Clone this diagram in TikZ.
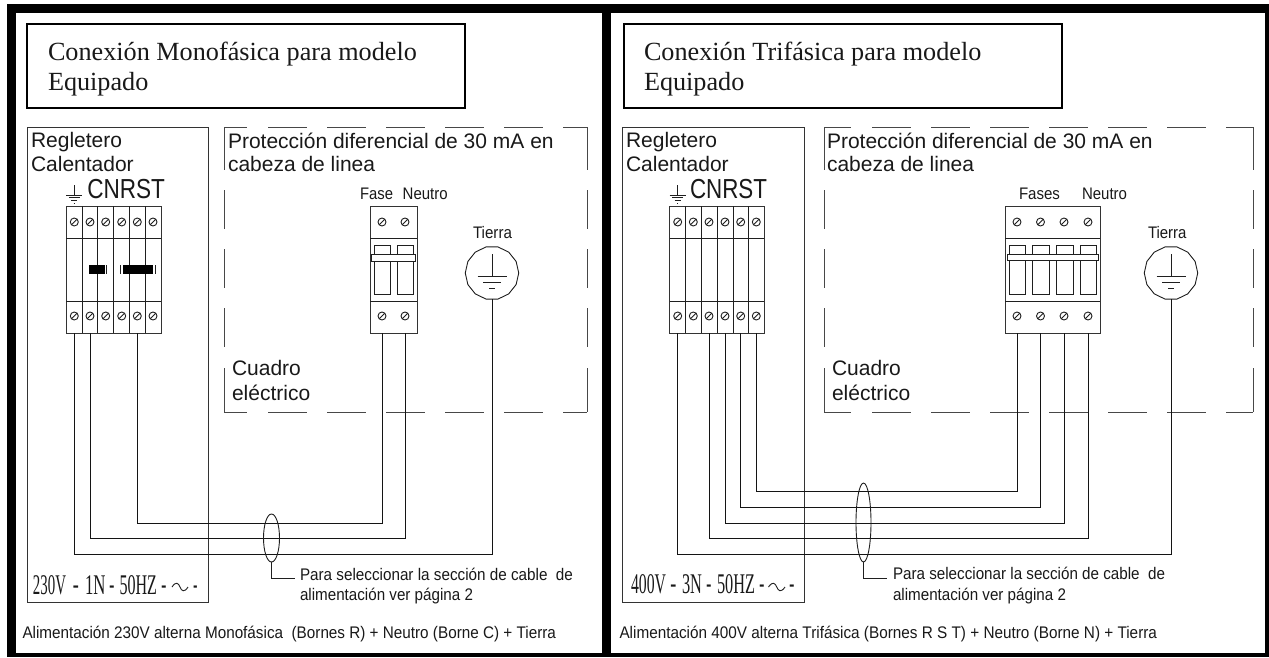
\documentclass[tikz,border=0pt]{standalone}
\usepackage{graphicx}
\usepackage{fontspec}
\setmainfont{Liberation Serif}
\setsansfont{Liberation Sans}
\usetikzlibrary{shapes.geometric}
\newcommand\fitw[2]{\resizebox{#1pt}{\height}{#2}}
\newcommand\sfs[1]{\sffamily\fontsize{#1}{#1}\selectfont}
\newcommand\rms[1]{\rmfamily\fontsize{#1}{#1}\selectfont}
\newcommand\screwat[2]{\draw[thinl] (#1,#2) circle (4); \draw[thinl] (#1-2.8,#2+2.8) -- (#1+2.8,#2-2.8);}
\newcommand\gndsym[2]{% small earth above strip
  \draw[thinl] (#1,#2-10) -- (#1,#2) (#1-8,#2) -- (#1+8,#2) (#1-5.5,#2+2.7) -- (#1+5.5,#2+2.7) (#1-3,#2+5.4) -- (#1+3,#2+5.4) (#1-.6,#2+8) -- (#1+.6,#2+8);}
\newcommand\earthin[2]{% earth inside Tierra symbol
  \draw[thinl] (#1,#2-19) -- (#1,#2+3) (#1-14.5,#2+3) -- (#1+14.5,#2+3) (#1-9,#2+9) -- (#1+9,#2+9) (#1-3,#2+15) -- (#1+3,#2+15);}
\newcommand\tildeat[3]{\draw[thinl] (#1,#3) .. controls (#1+#2*.25,#3-6) and (#1+#2*.4,#3-4) .. (#1+#2*.5,#3) .. controls (#1+#2*.6,#3+4) and (#1+#2*.75,#3+6) .. (#1+#2,#3);}
\tikzset{
  x=1pt,y=-1pt,
  thinl/.style={draw=black!88,line width=.9pt},
  wire/.style={draw=black!92,line width=1pt},
  lbl/.style={anchor=base west,inner sep=0pt,outer sep=0pt,text=black!90},
  boxl/.style={draw=black!80,line width=1pt,inner sep=0pt,outer sep=0pt,fill=none},
  titlebox/.style={draw=black,line width=1.5pt,inner sep=0pt,outer sep=0pt},
  dashl/.style={draw=black!72,line width=1pt},
  eartht/.style={regular polygon,regular polygon sides=14,minimum size=53.5pt,draw=black!88,line width=.9pt,inner sep=0pt,outer sep=0pt},
  big/.style={lbl,font=\sfs{21}},
  ttl/.style={lbl,font=\rms{26.2}},
  nar/.style={lbl,font=\sfs{16.7}},
  foot/.style={lbl,font=\sfs{16.8}},
  volt/.style={lbl,font=\rms{28.5}},
  vdash/.style={lbl,font=\sfs{28}},
}
\begin{document}
\begin{tikzpicture}
\useasboundingbox (0,0) rectangle (1269,657);
\fill[white] (0,0) rectangle (1269,657);
% outer frames
\fill[black] (7,4) rectangle (1269,12.5);
\fill[black] (7,4) rectangle (15.5,657);
\fill[black] (7,652.5) rectangle (1269,657);
\fill[black] (602,4) rectangle (611,657);
\fill[black] (1265,4) rectangle (1269,657);

% ---------- LEFT PANEL
\node[titlebox,minimum width=438pt,minimum height=84pt] (titleL) at (246,66) {};
\node[ttl] (tL1) at (48,60) {Conexión Monofásica para modelo};
\node[ttl] (tL2) at (48,90) {Equipado};
\node[boxl,minimum width=181pt,minimum height=475pt] (regL) at (117.5,364.5) {};
\node[big] (regLa) at (31,147) {Regletero};
\node[big] (regLb) at (31,171) {Calentador};
\gndsym{74.3}{195}
\node[lbl,font=\sfs{27.5}] (cnrstL) at (87.3,198) {\fitw{77.7}{CNRST}};
% terminal strip
\node[boxl,minimum width=94.7pt,minimum height=127pt] (stripL) at (113.65,269.5) {};
\foreach \x in {82,97.7,113.7,129.3,145.3} \draw[thinl] (\x,206) -- (\x,333);
\draw[thinl] (66.3,238) -- (161,238) (66.3,301) -- (161,301);
\foreach \x in {74.3,90,105.7,121.7,137.3,153} {\screwat{\x}{222}\screwat{\x}{316}}
\fill[black] (89,265) rectangle (105,273.7);
\draw[thinl] (106.5,265) -- (106.5,273.7);
\fill[black] (122.5,265) rectangle (153,273.7);
\draw[thinl] (120.8,265) -- (120.8,273.7) (155,265) -- (155,273.7);
% dashed box
\foreach \a/\b in {224/247,268/307,327/366,386/425,445/484,504/543,563/587}
  {\draw[dashl] (\a,127) -- (\b,127); \draw[dashl] (\a,412) -- (\b,412);}
\foreach \a/\b in {127/170,190/229,249/288,308/347,368/412}
  {\draw[dashl] (224,\a) -- (224,\b); \draw[dashl] (587,\a) -- (587,\b);}
\node[big] (protL1) at (228,148) {Protección diferencial de 30 mA en};
\node[big] (protL2) at (228,171) {cabeza de linea};
\node[big] (cuadL1) at (232,375) {Cuadro};
\node[big] (cuadL2) at (232,400) {eléctrico};
% breaker
\node[nar] (faseL) at (360,199) {\fitw{33}{Fase}};
\node[nar] (neuL) at (402.7,199) {\fitw{45}{Neutro}};
\node[boxl,minimum width=47pt,minimum height=127pt] (brkL) at (393.7,269.5) {};
\draw[thinl] (370,238) -- (417,238) (370,301) -- (417,301);
\foreach \x in {382,405} {\screwat{\x}{222}\screwat{\x}{316}}
\draw[thinl] (374.5,245) rectangle (390,294);
\draw[thinl] (397.5,245) rectangle (413,294);
\draw[thinl,fill=white] (371.5,254) rectangle (415.5,261);
% earth
\node[nar] (tieL) at (473,238) {\fitw{39}{Tierra}};
\node[eartht] (gndL) at (492,273) {};
\earthin{492}{273}
% wires
\coordinate (sLa) at (74.3,333);
\coordinate (sLb) at (90,333);
\coordinate (sLc) at (137.3,333);
\coordinate (bLa) at (382,333);
\coordinate (bLb) at (405,333);
\coordinate (busL1) at (0,523);
\coordinate (busL2) at (0,538);
\coordinate (busL3) at (0,554);
\draw[wire] (sLc) -- (sLc |- busL1) -- (bLa |- busL1) -- (bLa);
\draw[wire] (sLb) -- (sLb |- busL2) -- (bLb |- busL2) -- (bLb);
\draw[wire] (sLa) -- (sLa |- busL3) -- (gndL.south |- busL3) -- (gndL.south);
% cable
\node[draw=black!88,line width=.9pt,ellipse,minimum width=16pt,minimum height=48pt,inner sep=0pt,outer sep=0pt] (cabL) at (271.5,538) {};
\coordinate (leadL) at (295,578);
\draw[thinl] (cabL.south) |- (leadL);
\node[foot] (paraL1) at (300,580) {\fitw{273}{Para seleccionar la sección de cable\ \ de}};
\node[foot] (paraL2) at (300,600) {\fitw{173}{alimentación ver página 2}};
% voltage
\node[volt] (vLa) at (33,594) {\fitw{33}{230V}};
\node[vdash] (vLb) at (72.5,594) {\fitw{6.5}{-}};
\node[volt] (vLc) at (85,594) {\fitw{20.5}{1N}};
\node[vdash] (vLd) at (109,594) {\fitw{5.5}{-}};
\node[volt] (vLe) at (119.5,594) {\fitw{37.5}{50HZ}};
\node[vdash] (vLf) at (161,594) {\fitw{5.5}{-}};
\tildeat{172}{16}{587}
\node[vdash] (vLg) at (193,594) {\fitw{4.5}{-}};
\node[foot] (footL) at (22.5,638) {\fitw{533.5}{Alimentación 230V alterna Monofásica\ \ (Bornes R) + Neutro (Borne C) + Tierra}};

% ---------- RIGHT PANEL
\node[titlebox,minimum width=438pt,minimum height=84pt] (titleR) at (843,66) {};
\node[ttl] (tR1) at (644,60) {Conexión Trifásica para modelo};
\node[ttl] (tR2) at (644,90) {Equipado};
\node[boxl,minimum width=182pt,minimum height=475pt] (regR) at (713,364.5) {};
\node[big] (regRa) at (626,147) {Regletero};
\node[big] (regRb) at (626,171) {Calentador};
\gndsym{677.7}{195}
\node[lbl,font=\sfs{27.5}] (cnrstR) at (690,198) {\fitw{77}{CNRST}};
\node[boxl,minimum width=94.6pt,minimum height=127pt] (stripR) at (717,269.5) {};
\foreach \x in {685.7,701.3,717.3,733,748.7} \draw[thinl] (\x,206) -- (\x,333);
\draw[thinl] (669.7,238) -- (764.3,238) (669.7,301) -- (764.3,301);
\foreach \x in {677.7,693.3,709,725,740.7,756.3} {\screwat{\x}{222}\screwat{\x}{316}}
\foreach \a/\b in {824/851,872/911,931/970,990/1029,1049/1088,1108/1147,1167/1206,1226/1253}
  {\draw[dashl] (\a,127) -- (\b,127); \draw[dashl] (\a,412) -- (\b,412);}
\foreach \a/\b in {127/170,190/229,249/288,308/347,368/412}
  {\draw[dashl] (824,\a) -- (824,\b); \draw[dashl] (1253,\a) -- (1253,\b);}
\node[big] (protR1) at (827,148) {Protección diferencial de 30 mA en};
\node[big] (protR2) at (827,171) {cabeza de linea};
\node[big] (cuadR1) at (832,375) {Cuadro};
\node[big] (cuadR2) at (832,400) {eléctrico};
\node[nar] (faseR) at (1019,199) {\fitw{41}{Fases}};
\node[nar] (neuR) at (1082,199) {\fitw{45}{Neutro}};
\node[boxl,minimum width=95pt,minimum height=127pt] (brkR) at (1052.5,269.5) {};
\draw[thinl] (1005,238) -- (1100,238) (1005,301) -- (1100,301);
\foreach \x in {1017,1040.5,1064,1088} {\screwat{\x}{222}\screwat{\x}{316}}
\foreach \a/\b in {1009/1025,1032.5/1049,1056.5/1073,1080/1096} \draw[thinl] (\a,245) rectangle (\b,294);
\draw[thinl,fill=white] (1007,254) rectangle (1098,260.5);
\node[nar] (tieR) at (1148,238) {\fitw{38.5}{Tierra}};
\node[eartht] (gndR) at (1171,273) {};
\earthin{1171}{273}
\coordinate (sRa) at (677.7,333);
\coordinate (sRb) at (709,333);
\coordinate (sRc) at (725,333);
\coordinate (sRd) at (740.7,333);
\coordinate (sRe) at (756.3,333);
\coordinate (bRa) at (1017,333);
\coordinate (bRb) at (1040.5,333);
\coordinate (bRc) at (1064,333);
\coordinate (bRd) at (1088,333);
\coordinate (busR1) at (0,491);
\coordinate (busR2) at (0,507);
\coordinate (busR3) at (0,523);
\coordinate (busR4) at (0,538);
\coordinate (busR5) at (0,554);
\draw[wire] (sRe) -- (sRe |- busR1) -- (bRa |- busR1) -- (bRa);
\draw[wire] (sRd) -- (sRd |- busR2) -- (bRb |- busR2) -- (bRb);
\draw[wire] (sRc) -- (sRc |- busR3) -- (bRc |- busR3) -- (bRc);
\draw[wire] (sRb) -- (sRb |- busR4) -- (bRd |- busR4) -- (bRd);
\draw[wire] (sRa) -- (sRa |- busR5) -- (gndR.south |- busR5) -- (gndR.south);
\node[draw=black!88,line width=.9pt,ellipse,minimum width=15pt,minimum height=79pt,inner sep=0pt,outer sep=0pt] (cabR) at (863.5,522.5) {};
\coordinate (leadR) at (887,578);
\draw[thinl] (cabR.south) |- (leadR);
\node[foot] (paraR1) at (893,579.5) {\fitw{272}{Para seleccionar la sección de cable\ \ de}};
\node[foot] (paraR2) at (893,600) {\fitw{173}{alimentación ver página 2}};
\node[volt] (vRa) at (631,593.5) {\fitw{35}{400V}};
\node[vdash] (vRb) at (670,593.5) {\fitw{6.5}{-}};
\node[volt] (vRc) at (682,593.5) {\fitw{20}{3N}};
\node[vdash] (vRd) at (706,593.5) {\fitw{5.5}{-}};
\node[volt] (vRe) at (717,593.5) {\fitw{38}{50HZ}};
\node[vdash] (vRf) at (759,593.5) {\fitw{5.5}{-}};
\tildeat{768.5}{16.5}{587}
\node[vdash] (vRg) at (789,593.5) {\fitw{5.5}{-}};
\node[foot] (footR) at (619.5,638) {\fitw{537.5}{Alimentación 400V alterna Trifásica (Bornes R S T) + Neutro (Borne N) + Tierra}};
\end{tikzpicture}
\end{document}
